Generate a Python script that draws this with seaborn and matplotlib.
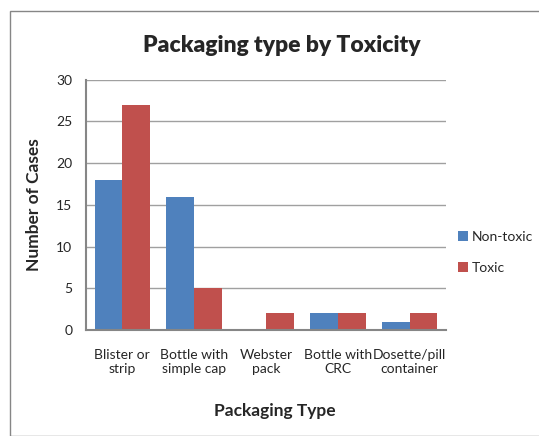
import numpy as np
import pandas as pd
import matplotlib
matplotlib.use("Agg")
import matplotlib.pyplot as plt
import seaborn as sns
from matplotlib.patches import Rectangle

sns.set_style("white")
plt.rcParams['font.family'] = ['Lato', 'DejaVu Sans']

categories = ["Blister or\nstrip", "Bottle with\nsimple cap", "Webster\npack",
              "Bottle with\nCRC", "Dosette/pill\ncontainer"]
non_toxic = [18, 16, 0, 2, 1]
toxic = [27, 5, 2, 2, 2]
series = ["Non-toxic", "Toxic"]
colors = ["#4F81BD", "#C0504D"]

df = pd.DataFrame({
    "cat": categories * 2,
    "val": non_toxic + toxic,
    "grp": [series[0]] * len(categories) + [series[1]] * len(categories),
})

fig = plt.figure(figsize=(5.39, 4.36), dpi=100)
ax = fig.add_axes([0.16, 0.243, 0.667, 0.574])

sns.barplot(data=df, x="cat", y="val", hue="grp", palette=colors,
            width=0.77, saturation=1, ax=ax, linewidth=0)

ax.set_ylim(0, 30)
ax.set_yticks(range(0, 31, 5))
ax.yaxis.grid(True, color="#A0A0A0", linewidth=1)
ax.set_axisbelow(True)
for s in ["top", "right"]:
    ax.spines[s].set_visible(False)
ax.spines["left"].set_color("#868686")
ax.spines["bottom"].set_color("#868686")
ax.spines["left"].set_linewidth(1.5)
ax.spines["bottom"].set_linewidth(1.5)
ax.tick_params(axis="both", labelsize=10, length=0, pad=10)
ax.tick_params(axis="x", pad=14)

ax.set_xlabel("Packaging Type", fontsize=12.5, fontweight="bold")
ax.xaxis.set_label_coords(0.525, -0.29)
ax.set_ylabel("Number of Cases", fontsize=12.5, fontweight="bold", labelpad=10)
fig.text(282 / 539, 1 - 45 / 436, "Packaging type by Toxicity", fontsize=16.5,
         fontweight="heavy", ha="center", va="center")

ax.legend(loc="center left", bbox_to_anchor=(1.0, 0.31), frameon=False,
          fontsize=10, handlelength=0.7, handleheight=0.7, handletextpad=0.3,
          labelspacing=1.4)

fig.patches.append(Rectangle((10 / 539, 0), 1, 1 - 11 / 436, transform=fig.transFigure,
                             fill=False, edgecolor="#868686", linewidth=1))

fig.savefig("out.png", dpi=100)
